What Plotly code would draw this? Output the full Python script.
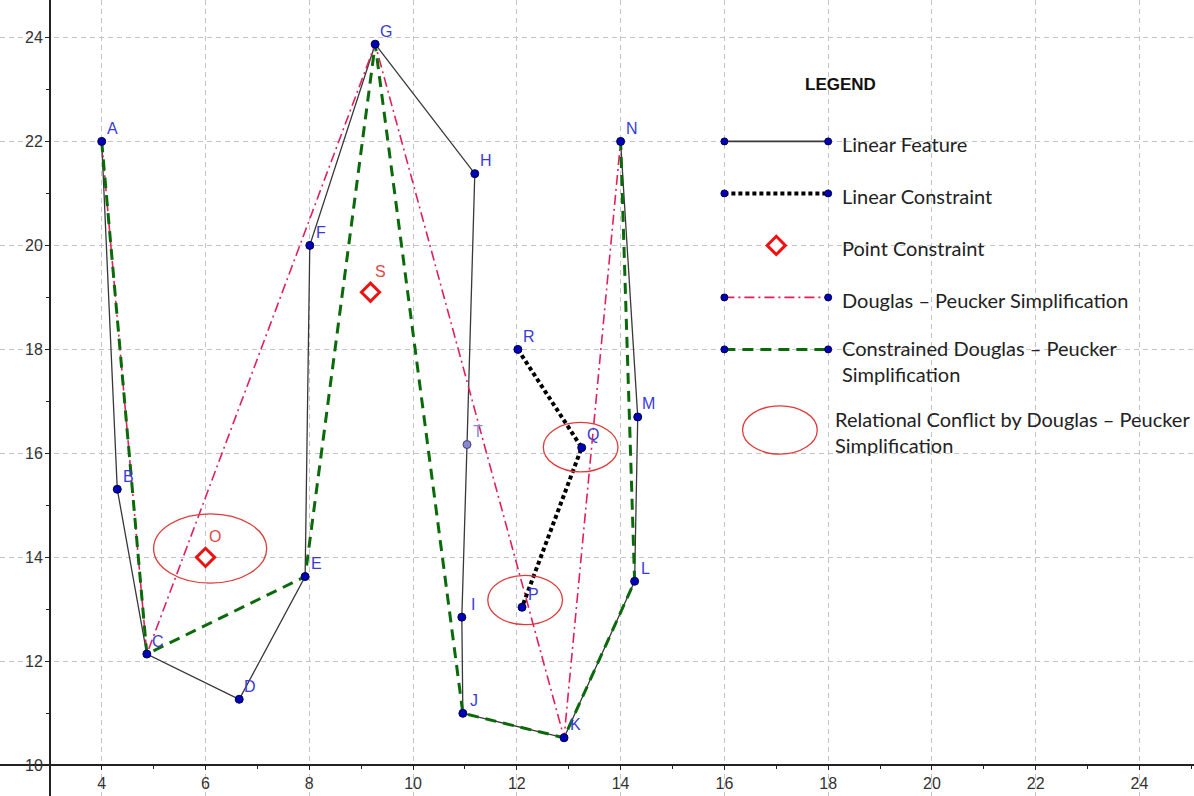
import plotly.graph_objects as go

# ---------------- data ----------------
feature_names = ["A", "B", "C", "D", "E", "F", "G", "H", "T", "I", "J", "K", "L", "M", "N"]
feature_x = [4.00, 4.30, 4.87, 6.65, 7.92, 8.01, 9.27, 11.19, 11.04, 10.94, 10.96, 12.91, 14.27, 14.33, 14.00]
feature_y = [22.00, 15.31, 12.14, 11.27, 13.63, 20.00, 23.87, 21.38, 16.17, 12.85, 11.00, 10.53, 13.54, 16.70, 22.00]

dp_names = ["A", "C", "G", "K", "N"]
cdp_names = ["A", "C", "E", "G", "J", "K", "L", "N"]

constraint_names = ["R", "Q", "P"]
constraint_x = [12.02, 13.25, 12.10]
constraint_y = [18.00, 16.11, 13.04]

pc_names = ["O", "S"]
pc_x = [6.00, 9.18]
pc_y = [14.00, 19.10]

conflict_cx = [6.09, 12.16, 13.23]
conflict_cy = [14.17, 13.18, 16.12]
conflict_rx = [1.09, 0.72, 0.72]
conflict_ry = [0.667, 0.475, 0.475]

legend_title = "LEGEND"
legend_seg_x = [16, 18]
legend_row_y = [22, 21, 20, 19, 18]
legend_labels = ["Linear Feature", "Linear Constraint", "Point Constraint",
                 "Douglas – Peucker Simplification", "Constrained Douglas – Peucker<br>Simplification"]
legend_ellipse = dict(cx=17.07, cy=16.45, rx=0.72, ry=0.465)
legend_ellipse_label = "Relational Conflict by Douglas – Peucker<br>Simplification"

y_tick_vals = [10, 12, 14, 16, 18, 20, 22, 24]
y_tick_text = ["10", "12", "14", "16", "18", "20", "22", "24"]

x_range = [2.04, 25.05]
y_range = [9.41, 24.72]
x_axis_at = 3.0   # where the y axis crosses
y_axis_at = 10.0  # where the x axis crosses

# ---------------- styles ----------------
C_FEATURE = "#383838"
C_DP = "#e0205a"
C_CDP = "#0a6a0a"
C_RED = "#ee1111"
C_ELL = "#e03a3a"
C_PT = "#0000b4"
C_LBL = "#3a3ad8"
TXT_FONT = "Lato, 'Noto Sans', sans-serif"
LBL_FONT = "'Liberation Sans', Arial, sans-serif"
TXT_SIZE = 20

lookup = {n: (x, y) for n, x, y in zip(feature_names, feature_x, feature_y)}

fig = go.Figure()

# linear feature
fig.add_trace(go.Scatter(x=feature_x, y=feature_y, mode="lines",
                         line=dict(color=C_FEATURE, width=1.3), hoverinfo="skip"))
# Douglas-Peucker
fig.add_trace(go.Scatter(x=[lookup[n][0] for n in dp_names], y=[lookup[n][1] for n in dp_names],
                         mode="lines", line=dict(color=C_DP, width=1.6, dash="10px,4px,2px,4px"),
                         hoverinfo="skip"))
# Constrained Douglas-Peucker
fig.add_trace(go.Scatter(x=[lookup[n][0] for n in cdp_names], y=[lookup[n][1] for n in cdp_names],
                         mode="lines", line=dict(color=C_CDP, width=3, dash="11px,7px"),
                         hoverinfo="skip"))
# linear constraint
fig.add_trace(go.Scatter(x=constraint_x, y=constraint_y, mode="lines",
                         line=dict(color="#000000", width=4, dash="4px,3px"), hoverinfo="skip"))

# feature points (T lighter)
pt_fill = ["#8888cc" if n == "T" else C_PT for n in feature_names]
pt_edge = ["#404080" if n == "T" else "#000050" for n in feature_names]
fig.add_trace(go.Scatter(x=feature_x, y=feature_y, mode="markers",
                         marker=dict(size=8, color=pt_fill, line=dict(color=pt_edge, width=1)),
                         hoverinfo="skip"))
fig.add_trace(go.Scatter(x=constraint_x, y=constraint_y, mode="markers",
                         marker=dict(size=8, color=C_PT, line=dict(color="#000050", width=1)),
                         hoverinfo="skip"))
# point constraints
fig.add_trace(go.Scatter(x=pc_x, y=pc_y, mode="markers",
                         marker=dict(symbol="diamond", size=14, color="white",
                                     line=dict(color=C_RED, width=3)),
                         hoverinfo="skip"))

# conflict ellipses
for cx, cy, rx, ry in zip(conflict_cx, conflict_cy, conflict_rx, conflict_ry):
    fig.add_shape(type="circle", xref="x", yref="y", x0=cx - rx, x1=cx + rx, y0=cy - ry, y1=cy + ry,
                  line=dict(color=C_ELL, width=1.3))

# point labels
for n, x, y in list(zip(feature_names, feature_x, feature_y)) + list(zip(constraint_names, constraint_x, constraint_y)):
    fig.add_annotation(x=x, y=y, text=n, showarrow=False, xshift=11, yshift=13,
                       font=dict(family=LBL_FONT, size=16, color="#8a8ad8" if n == "T" else C_LBL))
for n, x, y in zip(pc_names, pc_x, pc_y):
    fig.add_annotation(x=x, y=y, text=n, showarrow=False, xshift=10, yshift=21,
                       font=dict(family=LBL_FONT, size=16, color="#e04848"))

# ---------------- legend drawn in the plane ----------------
fig.add_annotation(x=(legend_seg_x[0] + legend_seg_x[1]) / 2 + 1.23, y=legend_row_y[0] + 1.1,
                   text="<b>" + legend_title + "</b>", showarrow=False,
                   font=dict(family=LBL_FONT, size=17, color="#111"))
legend_styles = [
    dict(color=C_FEATURE, width=1.6),
    dict(color="#000000", width=4, dash="4px,3px"),
    None,
    dict(color=C_DP, width=1.6, dash="10px,4px,2px,4px"),
    dict(color=C_CDP, width=3, dash="11px,7px"),
]
for yrow, st in zip(legend_row_y, legend_styles):
    if st is None:
        fig.add_trace(go.Scatter(x=[sum(legend_seg_x) / 2], y=[yrow], mode="markers",
                                 marker=dict(symbol="diamond", size=14, color="white",
                                             line=dict(color=C_RED, width=3)),
                                 hoverinfo="skip"))
    else:
        fig.add_trace(go.Scatter(x=legend_seg_x, y=[yrow, yrow], mode="lines+markers", line=st,
                                 marker=dict(size=7, color=C_PT, line=dict(color="#000050", width=1)),
                                 hoverinfo="skip"))
for yrow, lab in zip(legend_row_y, legend_labels):
    if "<br>" in lab:
        fig.add_annotation(x=legend_seg_x[1] + 0.22, y=yrow + 0.30, text=lab, showarrow=False,
                           xanchor="left", yanchor="top", align="left",
                           font=dict(family=TXT_FONT, size=TXT_SIZE, color="#222"))
    else:
        fig.add_annotation(x=legend_seg_x[1] + 0.22, y=yrow - 0.05, text=lab, showarrow=False,
                           xanchor="left", yanchor="middle",
                           font=dict(family=TXT_FONT, size=TXT_SIZE, color="#222"))
le = legend_ellipse
fig.add_shape(type="circle", xref="x", yref="y", x0=le["cx"] - le["rx"], x1=le["cx"] + le["rx"],
              y0=le["cy"] - le["ry"], y1=le["cy"] + le["ry"], line=dict(color=C_ELL, width=1.3))
fig.add_annotation(x=legend_seg_x[1] + 0.09, y=le["cy"] + 0.49, text=legend_ellipse_label, showarrow=False,
                   xanchor="left", yanchor="top", align="left",
                   font=dict(family=TXT_FONT, size=TXT_SIZE, color="#222"))

# ---------------- axes ----------------
xpos = (y_axis_at - y_range[0]) / (y_range[1] - y_range[0])
ypos = (x_axis_at - x_range[0]) / (x_range[1] - x_range[0])
axis_common = dict(showline=True, linecolor="#222", linewidth=1.5, ticks="outside", ticklen=4,
                   tickcolor="#222", tickwidth=1, dtick=2, tick0=0, showgrid=True, gridcolor="#c4c4c4",
                   gridwidth=1, griddash="5px,4px", zeroline=False, fixedrange=True,
                   tickfont=dict(family=LBL_FONT, size=16, color="#333"),
                   minor=dict(dtick=1, ticks="outside", ticklen=3, tickcolor="#222", showgrid=False))
fig.update_xaxes(range=x_range, anchor="free", position=xpos, **axis_common)
fig.update_yaxes(range=y_range, anchor="free", position=ypos, showticklabels=False, **axis_common)

# y tick labels placed next to the crossing axis
for v, t in zip(y_tick_vals, y_tick_text):
    fig.add_annotation(x=x_axis_at, y=v, text=t, showarrow=False, xanchor="right", yanchor="middle",
                       xshift=-5, font=dict(family=LBL_FONT, size=16, color="#333"))

fig.update_layout(width=1194, height=796, margin=dict(l=0, r=0, t=0, b=0),
                  paper_bgcolor="white", plot_bgcolor="white", showlegend=False)

fig.write_html("out.html", config={"displayModeBar": False},
               post_script="document.body.style.margin='0px';")
